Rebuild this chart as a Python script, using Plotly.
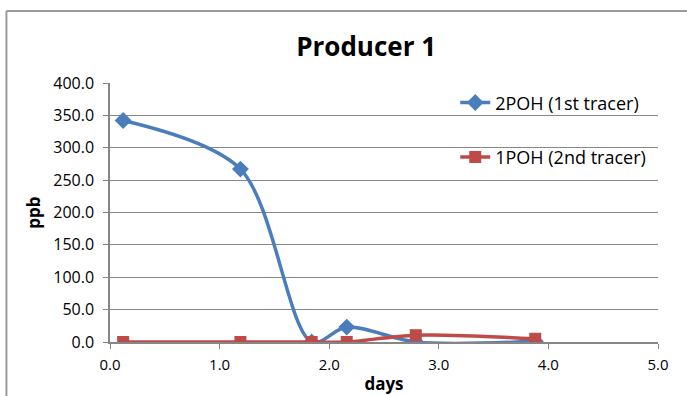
import plotly.graph_objects as go

# Sampling times (days) and tracer concentrations (ppb)
days = [0.12, 1.19, 1.84, 2.16, 2.79, 3.88]
tracer_2poh = [342.0, 267.0, 0.0, 23.0, 0.0, 1.0]
tracer_1poh = [0.0, 0.0, 0.0, 0.0, 10.5, 5.0]

x_ticks = [0, 1, 2, 3, 4, 5]
y_ticks = [0, 50, 100, 150, 200, 250, 300, 350, 400]

BLUE = "#4A7EBB"
RED = "#BE4B48"
GRID = "#868686"
FONT = "Open Sans"

fig = go.Figure()
fig.add_trace(go.Scatter(
    x=days, y=tracer_2poh, name="2POH (1st tracer)",
    mode="lines+markers", legendgroup="a",
    line=dict(color=BLUE, width=3.5, shape="spline", smoothing=0.9),
    marker=dict(symbol="diamond", size=13, color=BLUE),
))
fig.add_trace(go.Scatter(
    x=days, y=tracer_1poh, name="1POH (2nd tracer)",
    mode="lines+markers", legendgroup="b",
    line=dict(color=RED, width=3.5, shape="spline", smoothing=0.9),
    marker=dict(symbol="square", size=12, color=RED),
))

# chart frame (only top and left edges fall inside the page)
frame = dict(color="#9A9A9A", width=2)
fig.add_shape(type="line", xref="paper", yref="paper",
              x0=-0.189, y0=-0.25, x1=-0.189, y1=1.278, line=frame)
fig.add_shape(type="line", xref="paper", yref="paper",
              x0=-0.189, y0=1.278, x1=1.1, y1=1.278, line=frame)

fig.update_layout(
    width=687, height=396,
    margin=dict(l=110, r=29, t=83, b=54, autoexpand=False),
    paper_bgcolor="white", plot_bgcolor="white",
    font=dict(family=FONT, size=15, color="black"),
    title=dict(text="<b>Producer 1</b>", x=0.533, xref="container",
               xanchor="center", y=0.881, yref="container", yanchor="middle",
               font=dict(family=FONT, size=26, color="black")),
    showlegend=True,
    legend=dict(x=0.63, y=0.995, xanchor="left", yanchor="top",
                bgcolor="rgba(0,0,0,0)", traceorder="grouped",
                tracegroupgap=28, font=dict(family=FONT, size=18),
                itemwidth=30),
    xaxis=dict(range=[0, 5], tickvals=x_ticks, tickformat=".1f",
               showgrid=False, zeroline=False, automargin=False,
               showline=True, linecolor=GRID, linewidth=1.5,
               ticks="outside", tickcolor=GRID, ticklen=5,
               tickfont=dict(size=15), ticklabelstandoff=3,
               title=dict(text="<b>days</b>", standoff=5,
                          font=dict(size=17))),
    yaxis=dict(range=[0, 400], tickvals=y_ticks, tickformat=".1f",
               showgrid=True, gridcolor=GRID, gridwidth=1,
               zeroline=False, automargin=False,
               showline=True, linecolor=GRID, linewidth=1.5,
               ticks="outside", tickcolor=GRID, ticklen=5,
               tickfont=dict(size=16), ticklabelstandoff=6,
               title=dict(text="<b>ppb</b>", standoff=8,
                          font=dict(size=17))),
)

fig.write_html("out.html")
